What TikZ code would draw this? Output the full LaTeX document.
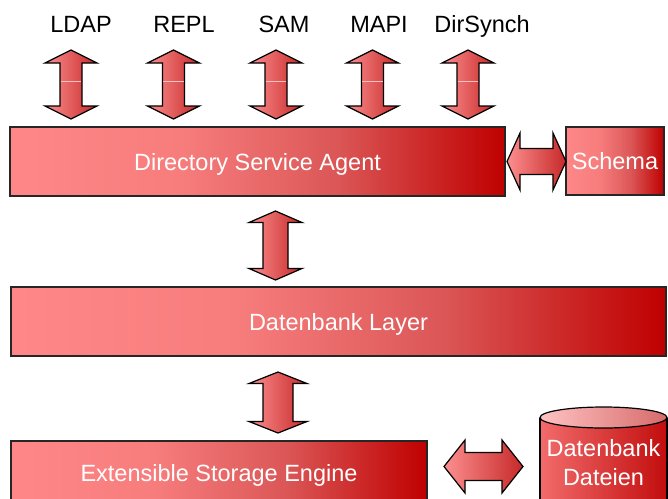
\documentclass[tikz,border=0pt]{standalone}
\usepackage{fontspec}
\setmainfont{Liberation Sans}

% left-to-right red gradients
\pgfdeclarehorizontalshading{layershade}{100bp}{rgb(0bp)=(1,.53,.53); rgb(25bp)=(1,.53,.53); rgb(42bp)=(.97,.49,.49); rgb(58bp)=(.86,.34,.34); rgb(75bp)=(.75,0,0); rgb(100bp)=(.75,0,0)}
\pgfdeclarehorizontalshading{arrowshade}{100bp}{rgb(0bp)=(.99,.56,.56); rgb(25bp)=(.99,.56,.56); rgb(75bp)=(.78,.16,.16); rgb(100bp)=(.78,.16,.16)}
\pgfdeclarehorizontalshading{lidshade}{100bp}{rgb(0bp)=(1,.76,.76); rgb(25bp)=(1,.76,.76); rgb(75bp)=(.84,.42,.42); rgb(100bp)=(.84,.42,.42)}
\pgfdeclarehorizontalshading{drumshade}{100bp}{rgb(0bp)=(.95,.42,.42); rgb(25bp)=(.95,.42,.42); rgb(75bp)=(.76,.05,.05); rgb(100bp)=(.76,.05,.05)}

% vertical block arrow: x, top tip, bottom tip, head half width, shaft half width, head length
\newcommand{\updown}[6]{%
  \draw[blockarrow] (#1,#2) -- (#1+#4,#2+#6) -- (#1+#5,#2+#6) -- (#1+#5,#3-#6) -- (#1+#4,#3-#6) -- (#1,#3)
    -- (#1-#4,#3-#6) -- (#1-#5,#3-#6) -- (#1-#5,#2+#6) -- (#1-#4,#2+#6) -- cycle;}
% horizontal block arrow: left tip, right tip, y, head half width, shaft half width, head length
\newcommand{\leftright}[6]{%
  \draw[blockarrow] (#1,#3) -- (#1+#6,#3-#4) -- (#1+#6,#3-#5) -- (#2-#6,#3-#5) -- (#2-#6,#3-#4) -- (#2,#3)
    -- (#2-#6,#3+#4) -- (#2-#6,#3+#5) -- (#1+#6,#3+#5) -- (#1+#6,#3+#4) -- cycle;}

\begin{document}
\begin{tikzpicture}[x=1pt,y=-1pt,
  every node/.style={font=\fontsize{23.5}{29}\selectfont},
  layer/.style={draw=black!85, line width=1.4pt, shade, shading=layershade, text=white, inner sep=0pt, text depth=0pt},
  blockarrow/.style={draw=black, line width=1.2pt, shade, shading=arrowshade, line join=miter},
  seam/.style={draw=red!25, line width=0.6pt}]
  \useasboundingbox (0,0) rectangle (668,498);

% layers
  \node[layer, minimum width=495pt, minimum height=69pt] (dsa) at (257.5,161.5) {Directory Service Agent};
  \node[layer, minimum width=98pt, minimum height=68pt] (schema) at (615,161) {Schema};
  \node[layer, minimum width=655pt, minimum height=69pt] (dblayer) at (338.5,321.5) {Datenbank Layer};
  \node[layer, minimum width=416pt, minimum height=64pt] (ese) at (219,473) {Extensible Storage Engine};

% interfaces on top
  \foreach \proto/\lx/\ax in {LDAP/81/71, REPL/184/173.5, SAM/284/276, MAPI/379/372.5, DirSynch/482/468}{
    \node[anchor=base] (\proto) at (\lx,32.5) {\proto};
    \updown{\ax}{50}{119}{26}{11}{13}
    \draw[seam] (\ax-10.4,81) -- (\ax+10.4,81);
  }

% between the layers
  \updown{275.5}{211}{280}{26.5}{12.5}{11.5}
  \updown{278}{372}{433}{29}{15}{11.5}
  \leftright{507}{566}{161.5}{28.5}{13}{13}
  \leftright{444}{523}{466.5}{26.5}{14}{21}

% database files drum
  \shade[shading=drumshade] (540,417.5) -- (540,530) -- (667,530) -- (667,417.5) -- cycle;
  \draw[line width=1.2pt] (540,417.5) -- (540,530) (667,417.5) -- (667,530);
  \shadedraw[shading=lidshade, line width=1.2pt] (603.5,417.5) ellipse (63.5pt and 10.5pt);
  \node[text=white, align=center] (dbfiles) at (603.5,463) {Datenbank\\Dateien};
\end{tikzpicture}
\end{document}
